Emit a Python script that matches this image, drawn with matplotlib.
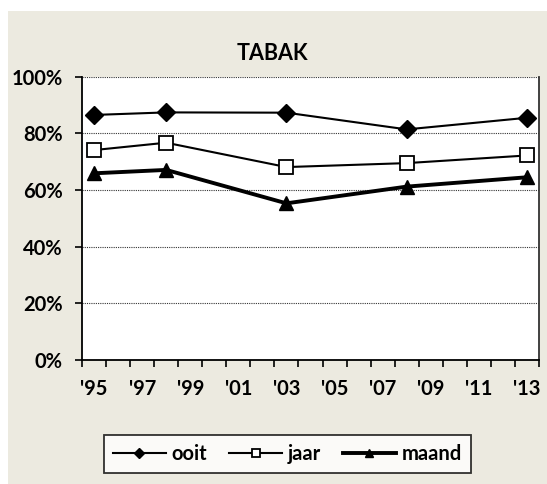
import matplotlib
matplotlib.use("Agg")
import matplotlib.pyplot as plt
from matplotlib.patches import Rectangle
from matplotlib.ticker import FixedLocator, FuncFormatter

plt.rcParams['font.family'] = ['Lato', 'DejaVu Sans']
plt.rcParams['font.weight'] = 'bold'

# survey years and prevalence (share of respondents)
years = [1995, 1998, 2003, 2008, 2013]
ooit = [0.865, 0.874, 0.873, 0.814, 0.855]
jaar = [0.741, 0.767, 0.681, 0.695, 0.722]
maand = [0.659, 0.671, 0.553, 0.612, 0.645]
label_years = list(range(1995, 2014, 2))

bg = '#ECEAE0'

fig = plt.figure(figsize=(5.47, 4.84), dpi=100)
fig.patch.set_facecolor('white')
fig.patches.append(Rectangle((8 / 547, 0), 1, 1 - 11 / 484, transform=fig.transFigure,
                             facecolor=bg, edgecolor='none', zorder=-10))

ax = fig.add_axes([82 / 547, 1 - 360 / 484, (539 - 82) / 547, (360 - 76.7) / 484])
ax.set_facecolor('white')

ax.plot(years, ooit, color='black', lw=1.5, marker='D', ms=9, mfc='black', mec='black',
        label='ooit', zorder=3)
ax.plot(years, jaar, color='black', lw=1.5, marker='s', ms=10.5, mfc='white', mec='black',
        mew=1.3, label='jaar', zorder=3)
ax.plot(years, maand, color='black', lw=2.8, marker='^', ms=10, mfc='black', mec='black',
        label='maand', zorder=3)

ax.set_xlim(1994.5, 2013.5)
ax.set_ylim(0, 1)

# labels centred on the years, tick marks between categories
ax.xaxis.set_major_locator(FixedLocator(label_years))
ax.xaxis.set_major_formatter(FuncFormatter(lambda v, p: "'%02d" % (int(v) % 100)))
ax.xaxis.set_minor_locator(FixedLocator([y + 0.5 for y in range(1994, 2014)]))
ax.tick_params(axis='x', which='major', length=0, pad=14, labelsize=14.5)
ax.tick_params(axis='x', which='minor', length=5, width=1.2, color='black')

ax.set_yticks([0, 0.2, 0.4, 0.6, 0.8, 1.0])
ax.yaxis.set_major_formatter(FuncFormatter(lambda v, p: '%d%%' % round(v * 100)))
ax.tick_params(axis='y', length=5, width=1.2, pad=9, labelsize=14.5)

ax.grid(axis='y', linestyle=(0, (1, 1)), color='#333333', lw=0.8)
ax.set_axisbelow(True)

ax.spines['top'].set_visible(False)
ax.spines['right'].set_color('#333333')
ax.spines['right'].set_linewidth(1.3)
ax.spines['left'].set_linewidth(1.3)
ax.spines['bottom'].set_linewidth(1.3)

fig.text(272 / 547, 1 - 53 / 484, 'TABAK', ha='center', va='center', fontsize=15.5,
         fontweight='bold')

leg = fig.legend(loc='center', bbox_to_anchor=(287.5 / 547, 1 - 454 / 484), ncol=3,
                 fontsize=14.5, frameon=True, fancybox=False, edgecolor='black',
                 handlelength=2.6, markerscale=0.6, columnspacing=1.1,
                 handletextpad=0.3, borderpad=0.45)
leg.get_frame().set_linewidth(1.3)
leg.get_frame().set_facecolor('white')

fig.savefig('out.png', dpi=100, facecolor=fig.get_facecolor())
